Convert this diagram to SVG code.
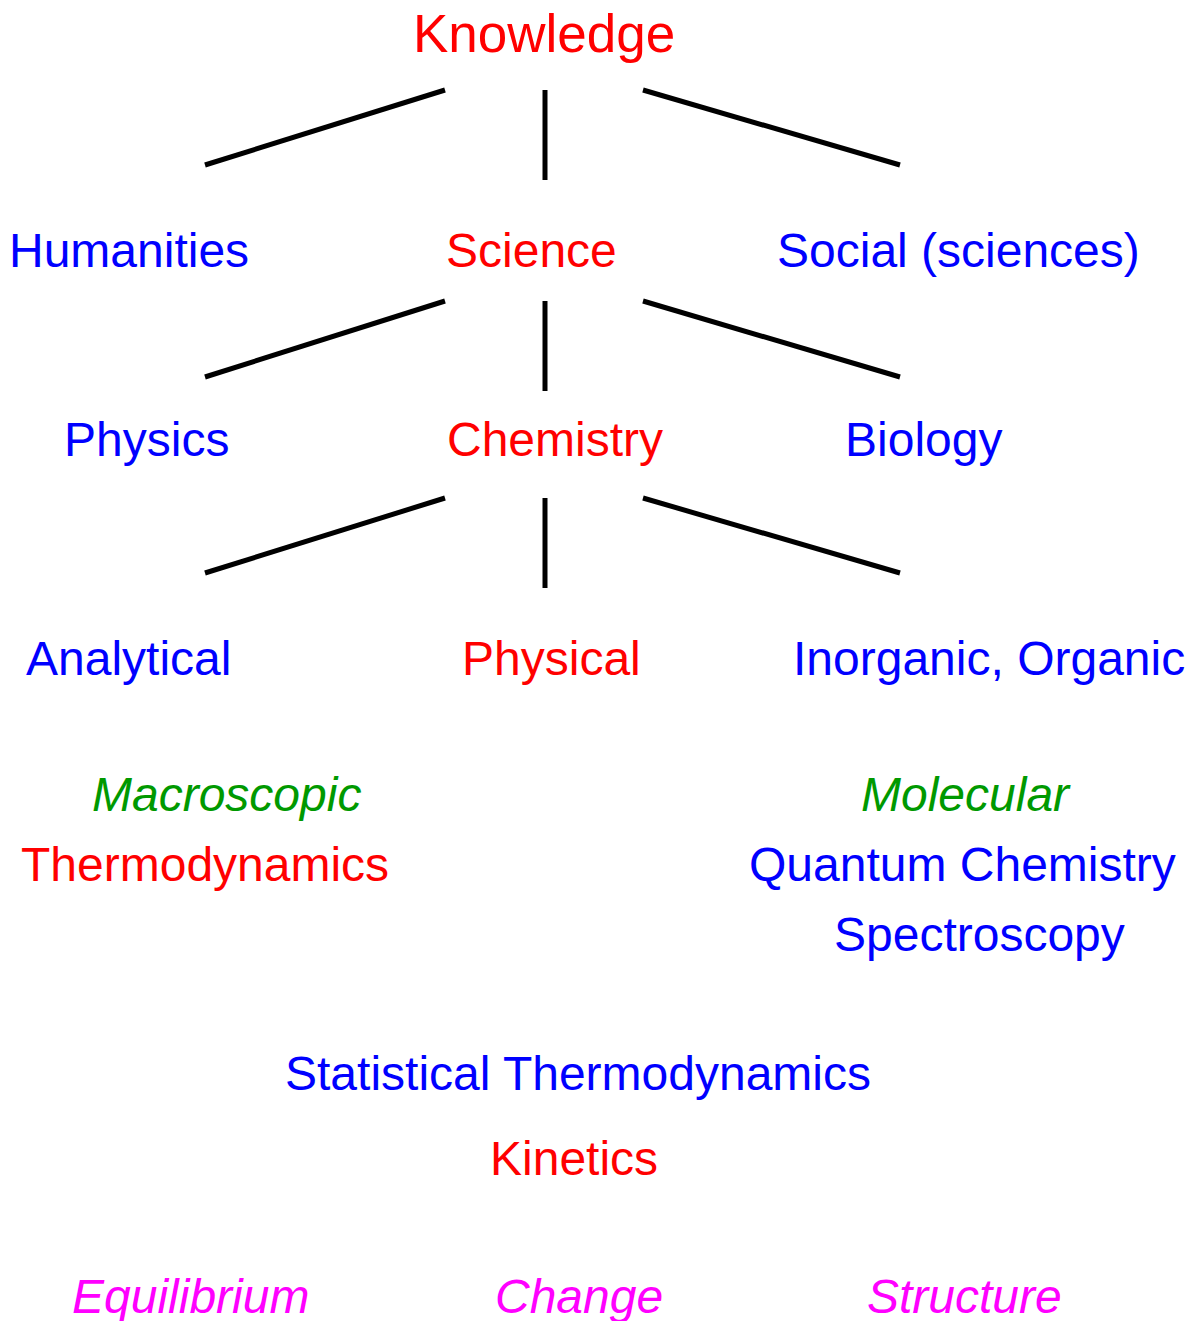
<svg xmlns="http://www.w3.org/2000/svg" width="1189" height="1321" viewBox="0 0 1189 1321">
<style>
text{font-family:"Liberation Sans",Arial,sans-serif;font-size:48px}
.r{fill:#ff0000}.b{fill:#0000ff}.g{fill:#009900;font-style:italic}.m{fill:#ff00ff;font-style:italic}
.c line{stroke:#000;stroke-width:5}
</style>
<rect width="1189" height="1321" fill="#fff"/>
<g id="connectors" class="c">
<line x1="445" y1="90" x2="205" y2="165"/>
<line x1="545" y1="90" x2="545" y2="180"/>
<line x1="643" y1="90" x2="900" y2="165"/>
<line x1="445" y1="301" x2="205" y2="377"/>
<line x1="545" y1="301" x2="545" y2="391"/>
<line x1="643" y1="301" x2="900" y2="377"/>
<line x1="445" y1="498" x2="205" y2="573"/>
<line x1="545" y1="498" x2="545" y2="588"/>
<line x1="643" y1="498" x2="900" y2="573"/>
</g>
<g id="knowledge"><text class="r" x="413" y="52" style="font-size:53px">Knowledge</text></g>
<g id="humanities"><text class="b" x="9" y="267">Humanities</text></g>
<g id="science"><text class="r" x="446" y="267">Science</text></g>
<g id="social"><text class="b" x="777" y="267">Social (sciences)</text></g>
<g id="physics"><text class="b" x="64" y="456">Physics</text></g>
<g id="chemistry"><text class="r" x="447" y="456">Chemistry</text></g>
<g id="biology"><text class="b" x="845" y="456">Biology</text></g>
<g id="analytical"><text class="b" x="26" y="675">Analytical</text></g>
<g id="physical"><text class="r" x="462" y="675">Physical</text></g>
<g id="inorganic"><text class="b" x="793" y="675">Inorganic, Organic</text></g>
<g id="macroscopic"><text class="g" x="92" y="811">Macroscopic</text></g>
<g id="thermodynamics"><text class="r" x="21" y="881">Thermodynamics</text></g>
<g id="molecular"><text class="g" x="861" y="811">Molecular</text></g>
<g id="quantum"><text class="b" x="749" y="881">Quantum Chemistry</text></g>
<g id="spectroscopy"><text class="b" x="834" y="951">Spectroscopy</text></g>
<g id="statistical"><text class="b" x="285" y="1090">Statistical Thermodynamics</text></g>
<g id="kinetics"><text class="r" x="490" y="1175">Kinetics</text></g>
<g id="equilibrium"><text class="m" x="72" y="1313">Equilibrium</text></g>
<g id="change"><text class="m" x="495" y="1313">Change</text></g>
<g id="structure"><text class="m" x="867" y="1313">Structure</text></g>
</svg>
